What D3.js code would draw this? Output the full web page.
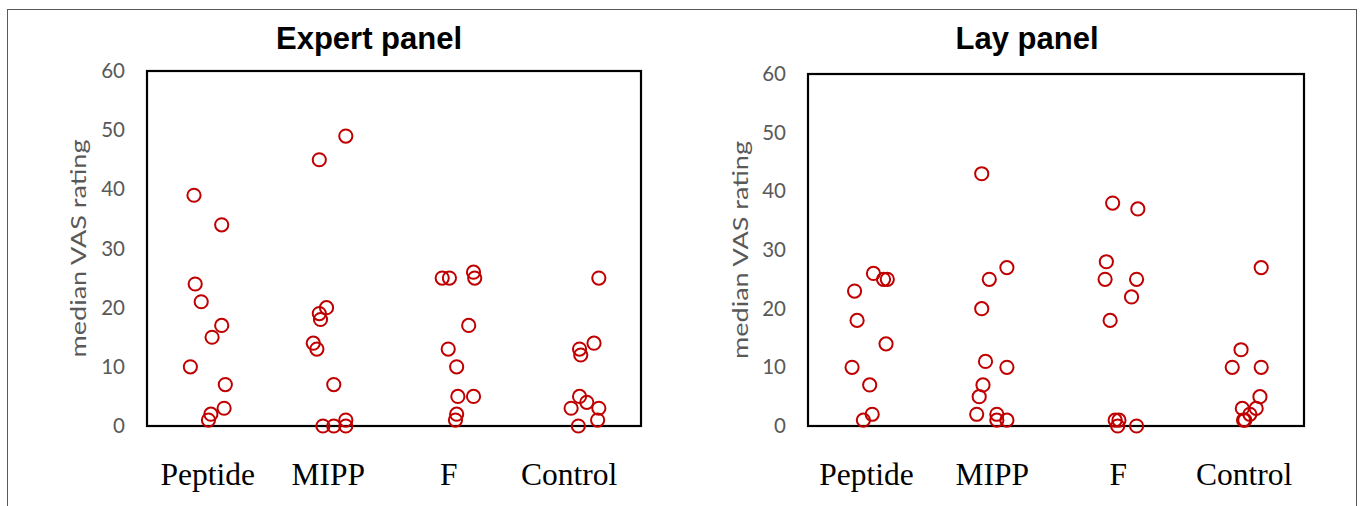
<!DOCTYPE html>
<html>
<head>
<meta charset="utf-8">
<script src="https://cdn.jsdelivr.net/npm/d3@7"></script>
<style>
  body { margin: 0; background: #fff; }
</style>
</head>
<body>
<div id="chart"></div>
<script>
// categories and y ticks
const categories = ["Peptide", "MIPP", "F", "Control"];
const yTicks = [0, 10, 20, 30, 40, 50, 60];

// each point is [jittered category position, median VAS rating]
const expertPeptide = [[0.89, 39], [1.12, 34], [0.90, 24], [0.95, 21], [1.12, 17], [1.04, 15],
    [0.86, 10], [1.15, 7], [1.14, 3], [1.03, 2], [1.01, 1]];
const expertMIPP = [[2.15, 49], [1.93, 45], [1.99, 20], [1.93, 19], [1.94, 18], [1.88, 14],
    [1.91, 13], [2.05, 7], [2.15, 1], [1.96, 0], [2.05, 0], [2.15, 0]];
const expertF = [[2.95, 25], [3.01, 25], [3.21, 26], [3.22, 25], [3.17, 17], [3.00, 13],
    [3.07, 10], [3.08, 5], [3.21, 5], [3.07, 2], [3.06, 1]];
const expertControl = [[4.25, 25], [4.21, 14], [4.09, 13], [4.10, 12], [4.09, 5], [4.15, 4],
    [4.02, 3], [4.25, 3], [4.24, 1], [4.08, 0]];

const layPeptide = [[1.06, 26], [1.14, 25], [1.17, 25], [0.91, 23], [0.93, 18], [1.16, 14],
    [0.89, 10], [1.03, 7], [1.05, 2], [0.98, 1]];
const layMIPP = [[1.92, 43], [2.12, 27], [1.98, 25], [1.92, 20], [1.95, 11], [2.12, 10],
    [1.93, 7], [1.90, 5], [1.88, 2], [2.04, 2], [2.04, 1], [2.12, 1]];
const layF = [[2.96, 38], [3.16, 37], [2.91, 28], [2.90, 25], [3.15, 25], [3.11, 22],
    [2.94, 18], [3.01, 1], [2.98, 1], [3.00, 0], [3.15, 0]];
const layControl = [[4.14, 27], [3.98, 13], [3.91, 10], [4.14, 10], [4.13, 5], [3.99, 3],
    [4.10, 3], [4.05, 2], [4.00, 1], [4.01, 1]];

const width = 1361, height = 506;

const svg = d3.select("#chart")
    .append("svg")
    .attr("width", width)
    .attr("height", height);

// outer chart frame
svg.append("rect")
    .attr("x", 7.5)
    .attr("y", 9.5)
    .attr("width", 1349)
    .attr("height", 540)
    .attr("fill", "none")
    .attr("stroke", "#595959")
    .attr("stroke-width", 1);

const panels = [
    {title: "Expert panel", left: 147, right: 641, top: 71, bottom: 426, titleX: 369, axisTitleX: 79,
        xDomain: [0.5, 4.6], groups: [expertPeptide, expertMIPP, expertF, expertControl]},
    {title: "Lay panel", left: 808, right: 1304, top: 74, bottom: 426, titleX: 1027, axisTitleX: 741,
        xDomain: [0.54, 4.48], groups: [layPeptide, layMIPP, layF, layControl]}
];

panels.forEach(function(p) {
    let x = d3.scaleLinear().domain(p.xDomain).range([p.left, p.right]);
    let y = d3.scaleLinear().domain([0, 60]).range([p.bottom, p.top]);

    // title
    svg.append("text")
        .attr("x", p.titleX)
        .attr("y", 49)
        .attr("text-anchor", "middle")
        .style("font-family", "'Liberation Sans', Arial, sans-serif")
        .style("font-weight", "bold")
        .style("font-size", "31px")
        .attr("fill", "#000")
        .text(p.title);

    // y axis
    let yAxis = svg.append("g")
        .attr("transform", "translate(" + p.left + ",0)")
        .call(d3.axisLeft(y).tickValues(yTicks).tickSize(0).tickPadding(22));
    yAxis.select(".domain").remove();
    yAxis.selectAll("text")
        .style("font-family", "Lato, 'Open Sans', sans-serif")
        .style("font-size", "20.5px")
        .attr("fill", "#595959");

    // y axis label
    svg.append("text")
        .attr("transform", "translate(" + p.axisTitleX + "," + ((p.top + p.bottom) / 2) + ") rotate(-90)")
        .attr("text-anchor", "middle")
        .attr("dy", "0.35em")
        .style("font-family", "Lato, 'Open Sans', sans-serif")
        .style("font-size", "21px")
        .attr("fill", "#595959")
        .attr("textLength", 218)
        .attr("lengthAdjust", "spacingAndGlyphs")
        .text("median VAS rating");

    // x axis category labels
    let xAxis = svg.append("g")
        .attr("transform", "translate(0," + p.bottom + ")")
        .call(d3.axisBottom(x).tickValues([1, 2, 3, 4]).tickSize(0)
            .tickFormat(function(d) { return categories[d - 1]; }));
    xAxis.select(".domain").remove();
    xAxis.selectAll("text")
        .attr("y", 59)
        .attr("dy", 0)
        .style("font-family", "'Liberation Serif', 'Times New Roman', serif")
        .style("font-size", "31.5px")
        .attr("fill", "#000");

    // plot area border
    svg.append("rect")
        .attr("x", p.left)
        .attr("y", p.top)
        .attr("width", p.right - p.left)
        .attr("height", p.bottom - p.top)
        .attr("fill", "none")
        .attr("stroke", "#000")
        .attr("stroke-width", 2.2);

    // the markers
    let points = [].concat.apply([], p.groups);
    svg.append("g").selectAll("circle")
        .data(points)
        .enter()
        .append("circle")
        .attr("cx", function(d) { return x(d[0]); })
        .attr("cy", function(d) { return y(d[1]); })
        .attr("r", 6.6)
        .attr("fill", "none")
        .attr("stroke", "#C00000")
        .attr("stroke-width", 2);
});
</script>
</body>
</html>
